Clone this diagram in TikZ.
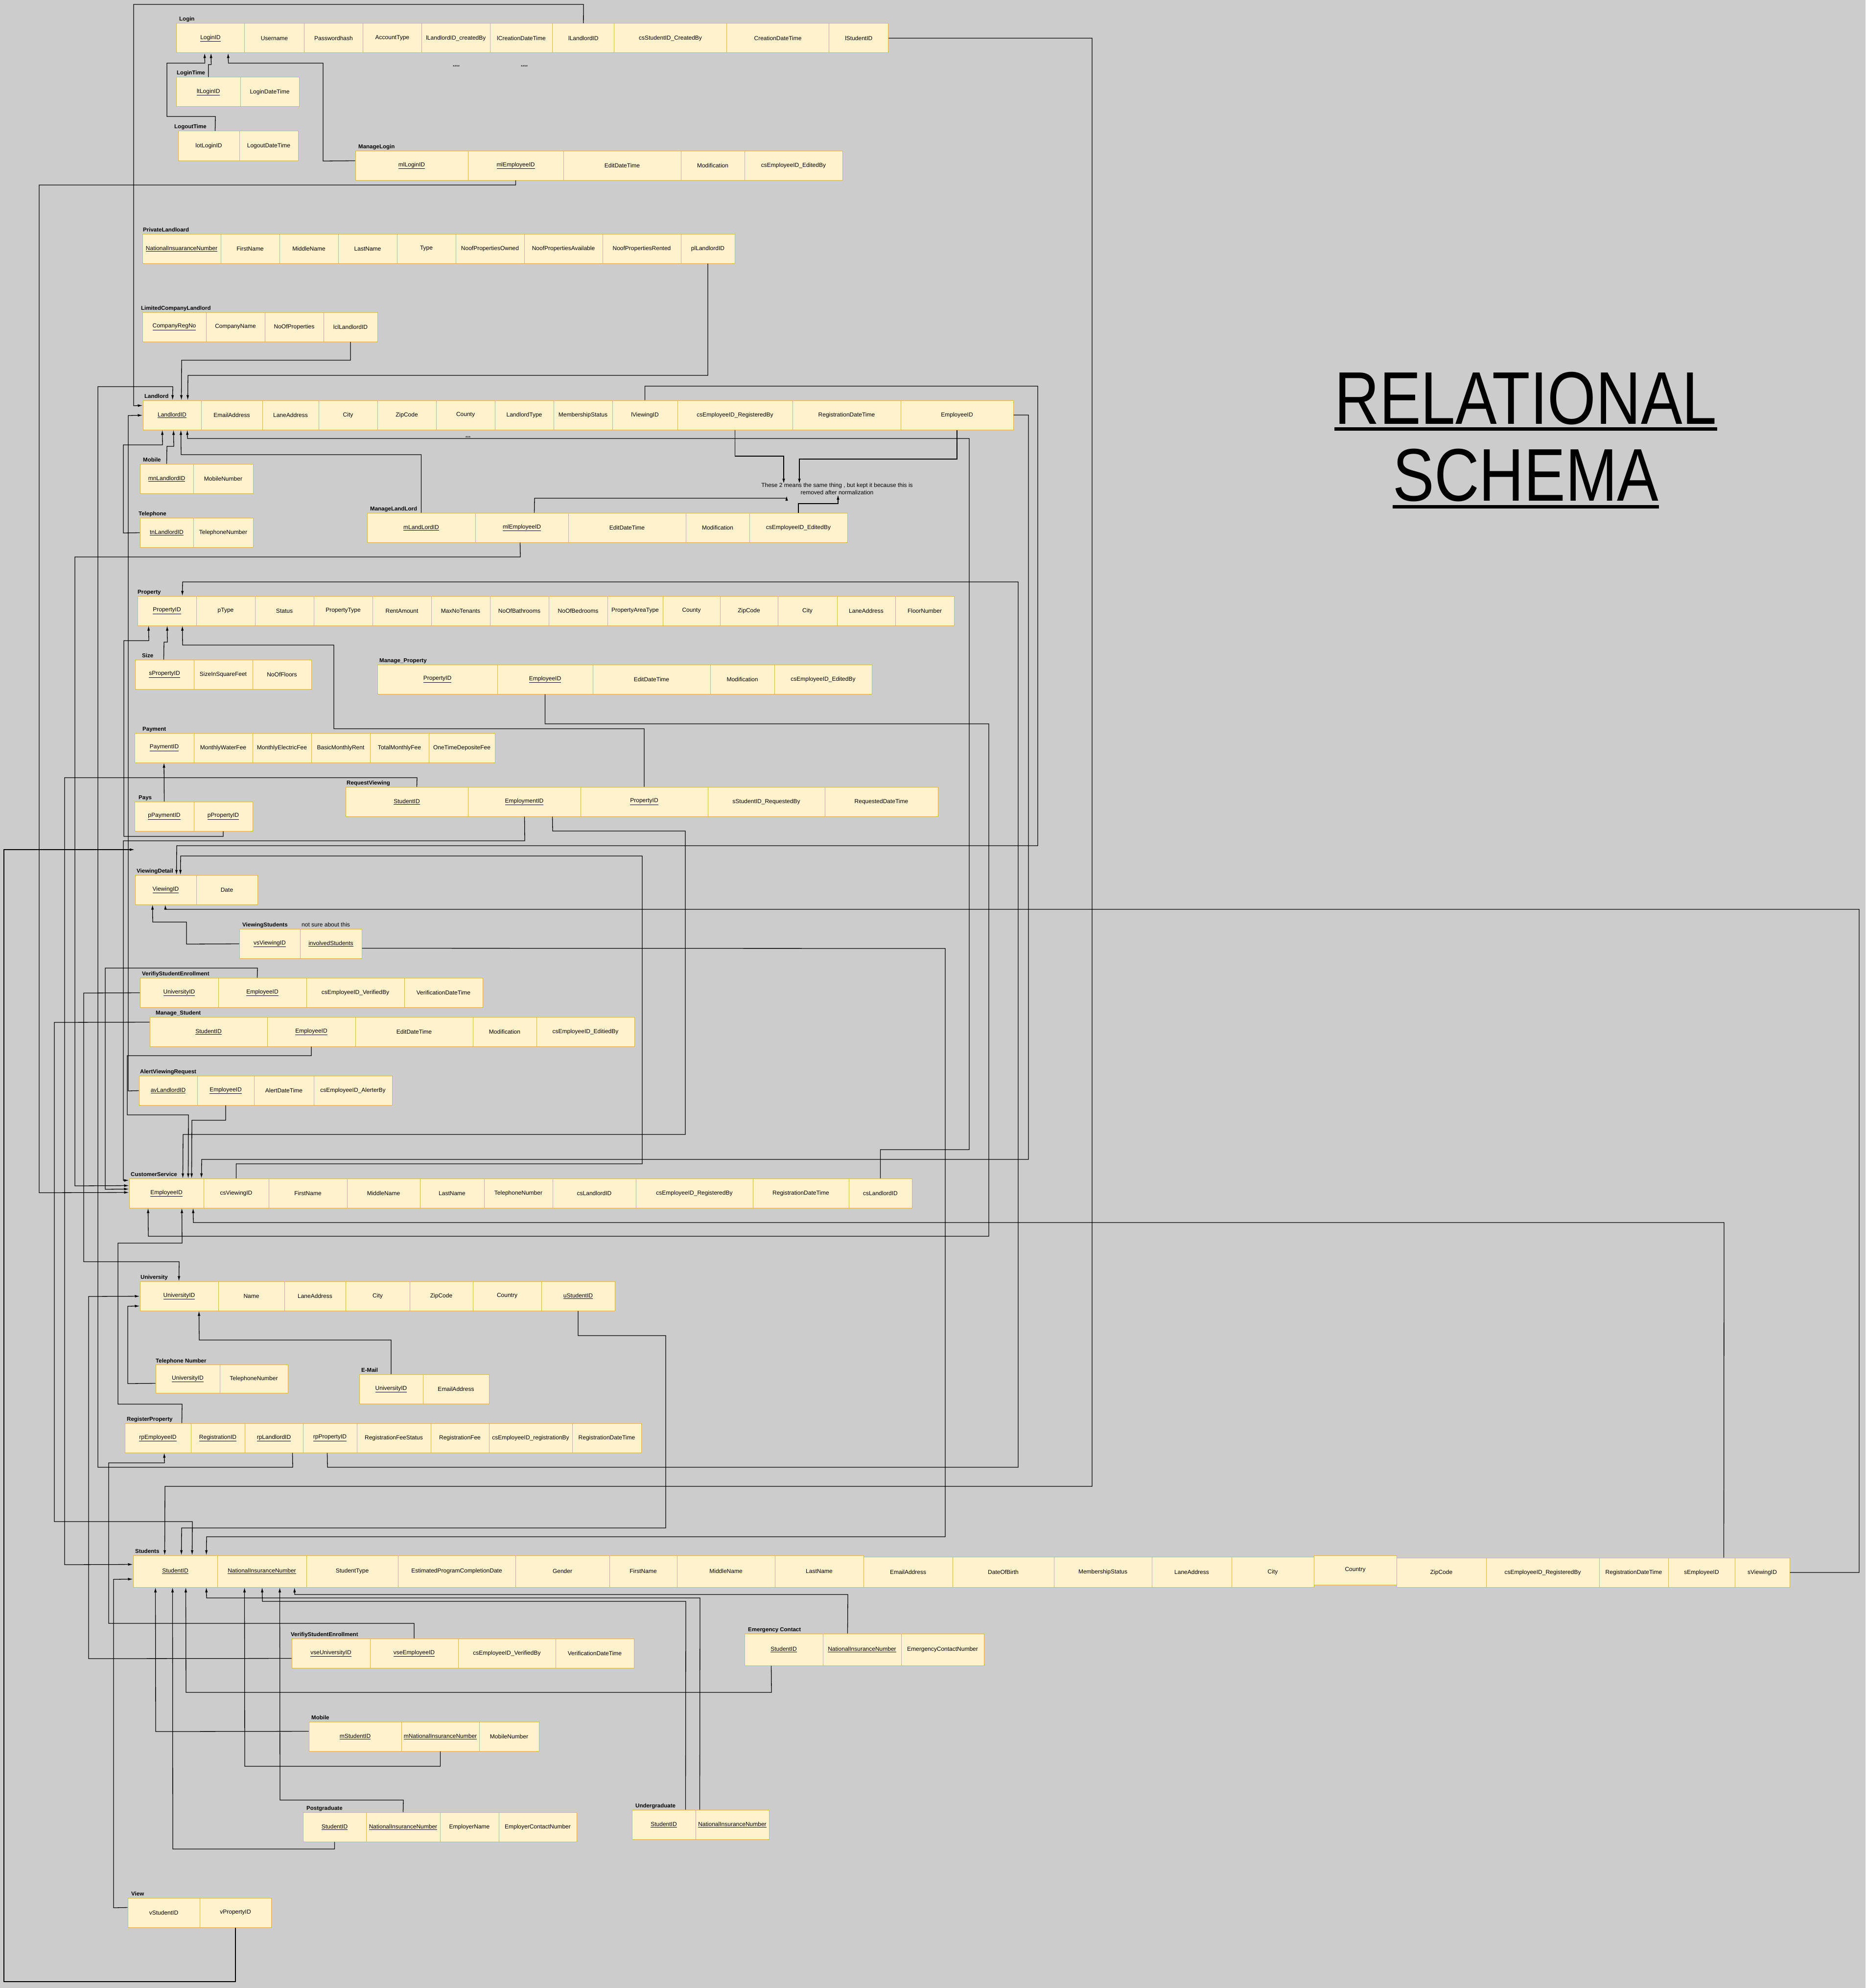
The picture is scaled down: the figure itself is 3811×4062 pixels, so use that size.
\documentclass[tikz,border=0pt]{standalone}
\usepackage{fontspec}
\setmainfont{Liberation Sans}
\usepackage{graphicx}
\usetikzlibrary{arrows.meta}
\definecolor{bgc}{HTML}{CCCCCC}
\definecolor{cfill}{HTML}{FFF2CC}
\definecolor{cdraw}{HTML}{D6B656}
\newcommand\cellat[6]{\node[cellbox, minimum width={(#3-#2)*1pt}, minimum height={(#5-#4)*1pt}] (#1) at ({(#2+#3)/2},{(#4+#5)/2}) {#6};}
\newcommand\trow[4]{\foreach \xa/\xb/\tx [count=\i] in {#4}{\cellat{#1\i}{\xa}{\xb}{#2}{#3}{\tx}}}
\newcommand\tlab[4]{\node[tlabel] (#1) at (#2,#3) {#4};}
\begin{document}
\begin{tikzpicture}[x=1pt,y=-1pt,
  cellbox/.style={draw=cdraw, fill=cfill, line width=1pt, inner sep=0pt, font=\fontsize{12}{14}\selectfont, anchor=center},
  tlabel/.style={anchor=base west, inner sep=0pt, font=\bfseries\fontsize{11.5}{14}\selectfont},
  plain/.style={anchor=base west, inner sep=0pt, font=\fontsize{12}{14}\selectfont},
  fk/.style={draw=black, line width=1.3pt, -{Latex[length=10pt,width=5.5pt]}}]
\useasboundingbox (0,0) rectangle (3811,4062);
\fill[bgc] (0,0) rectangle (3811,4062);

% ---------- tables ----------
\tlab{Llogin}{366}{43}{Login}
\trow{lg}{48}{108}{360.5/499.4/\underline{LoginID}, 499.4/621.5/Username, 621.5/741.4/Passwordhash, 741.4/861.4/AccountType, 861.4/1001.3/lLandlordID\_createdBy, 1001.3/1128.7/lCreationDateTime, 1128.7/1254.9/lLandlordID, 1254.9/1484.3/csStudentID\_CreatedBy, 1484.3/1693.8/CreationDateTime, 1693.8/1814.8/lStudentID}
\node[inner sep=0pt, font=\fontsize{9}{10}\selectfont] (dots1) at (932,136) {****};
\node[inner sep=0pt, font=\fontsize{9}{10}\selectfont] (dots2) at (1071,136) {****};

\tlab{Llt}{361}{153}{LoginTime}
\trow{lt}{158}{218}{360.5/491/\underline{ltLoginID}, 491/611/LoginDateTime}
\tlab{Llo}{356}{263}{LogoutTime}
\trow{lo}{268}{328}{364/489/lotLoginID, 489/609/LogoutDateTime}
\tlab{Lml}{732}{303}{ManageLogin}
\trow{ml}{308}{368}{726/956/\underline{mlLoginID}, 956/1151/\underline{mlEmployeeID}, 1151/1391/EditDateTime, 1391/1521/Modification, 1521/1721/csEmployeeID\_EditedBy}

\tlab{Lpl}{292}{473}{PrivateLandloard}
\trow{pl}{478}{538}{291/451/\underline{NationalInsuaranceNumber}, 451/571/FirstName, 571/691/MiddleName, 691/811/LastName, 811/931/Type, 931/1071/NoofPropertiesOwned, 1071/1231/NoofPropertiesAvailable, 1231/1391/NoofPropertiesRented, 1391/1501/plLandlordID}
\tlab{Llc}{288}{633}{LimitedCompanyLandlord}
\trow{lc}{638}{698}{291/421/\underline{CompanyRegNo}, 421/541/CompanyName, 541/661/NoOfProperties, 661/771/lclLandlordID}

\tlab{Lll}{295}{813}{Landlord}
\trow{ll}{818}{878}{292/411/\underline{LandlordID}, 411/536/EmailAddress, 536/651/LaneAddress, 651/771/City, 771/891/ZipCode, 891/1011/County, 1011/1131/LandlordType, 1131/1251/MembershipStatus, 1251/1384/lViewingID, 1384/1619/csEmployeeID\_RegisteredBy, 1619/1840/RegistrationDateTime, 1840/2070/EmployeeID}
\node[inner sep=0pt, font=\fontsize{9}{10}\selectfont] (dots3) at (956,894) {***};

\tlab{Llm}{292}{943}{Mobile}
\trow{lm}{948}{1008}{286/395/\underline{mnLandlordID}, 395/517/MobileNumber}
\tlab{Ltl}{283}{1053}{Telephone}
\trow{tl}{1058}{1118}{286/395/\underline{tnLandlordID}, 395/517/TelephoneNumber}
\tlab{Lmll}{756}{1043}{ManageLandLord}
\trow{mll}{1048}{1108}{750/971/\underline{mLandLordID}, 971/1161/\underline{mlEmployeeID}, 1161/1401/EditDateTime, 1401/1531/Modification, 1531/1731/csEmployeeID\_EditedBy}

\node[inner sep=0pt, align=center, font=\fontsize{12}{15}\selectfont] (note) at (1710,999) {These 2 means the same thing , but kept it because this is\\removed after normalization};
\coordinate (na) at (1601,988);
\coordinate (nb) at (1633,988);
\coordinate (nc) at (1607,1013);
\coordinate (nd) at (1712,1011);

\tlab{Lpr}{281}{1213}{Property}
\trow{pr}{1218}{1278}{281/401/\underline{PropertyID}, 401/521/pType, 521/641/Status, 641/761/PropertyType, 761/881/RentAmount, 881/1001/MaxNoTenants, 1001/1121/NoOfBathrooms, 1121/1241/NoOfBedrooms, 1241/1354/PropertyAreaType, 1354/1471/County, 1471/1589/ZipCode, 1589/1710/City, 1710/1829/LaneAddress, 1829/1949/FloorNumber}
\tlab{Lsz}{290}{1343}{Size}
\trow{sz}{1348}{1408}{276/396/\underline{sPropertyID}, 396/516/SizeInSquareFeet, 516/636/NoOfFloors}
\tlab{Lmp}{775}{1353}{Manage\_Property}
\trow{mp}{1358}{1418}{771/1016/\underline{PropertyID}, 1016/1211/\underline{EmployeeID}, 1211/1451/EditDateTime, 1451/1582/Modification, 1582/1781/csEmployeeID\_EditedBy}

\tlab{Lpm}{291}{1493}{Payment}
\trow{pm}{1498}{1558}{275/396/\underline{PaymentID}, 396/516/MonthlyWaterFee, 516/636/MonthlyElectricFee, 636/756/BasicMonthlyRent, 756/876/TotalMonthlyFee, 876/1011/OneTimeDepositeFee}
\tlab{Lps}{283}{1633}{Pays}
\trow{ps}{1638}{1698}{275/396/\underline{pPaymentID}, 396/516/\underline{pPropertyID}}
\tlab{Lrv}{708}{1603}{RequestViewing}
\trow{rv}{1608}{1668}{706/956/\underline{StudentID}, 956/1186/\underline{EmploymentID}, 1186/1446/\underline{PropertyID}, 1446/1685/sStudentID\_RequestedBy, 1685/1916/RequestedDateTime}

\coordinate (pa) at (275,1736);
\tlab{Lvd}{279}{1783}{ViewingDetail}
\trow{vd}{1788}{1848}{276/401/\underline{ViewingID}, 401/526/Date}
\tlab{Lvs}{495}{1893}{ViewingStudents}
\node[plain] (unsure) at (616,1893) {not sure about this};
\trow{vs}{1898}{1958}{489/613/\underline{vsViewingID}, 613/739/\underline{involvedStudents}}

\tlab{Lve}{290}{1993}{VerifiyStudentEnrollment}
\trow{ve}{1998}{2058}{286/446/\underline{UniversityID}, 446/626/\underline{EmployeeID}, 626/826/csEmployeeID\_VerifiedBy, 826/986/VerificationDateTime}
\tlab{Lms}{318}{2073}{Manage\_Student}
\trow{ms}{2078}{2138}{306/546/\underline{StudentID}, 546/726/\underline{EmployeeID}, 726/966/EditDateTime, 966/1096/Modification, 1096/1296/csEmployeeID\_EditiedBy}
\tlab{Lav}{286}{2193}{AlertViewingRequest}
\trow{av}{2198}{2258}{284/403/\underline{avLandlordID}, 403/519/\underline{EmployeeID}, 519/641/AlertDateTime, 641/801/csEmployeeID\_AlerterBy}

\tlab{Lcs}{267}{2403}{CustomerService}
\trow{cs}{2408}{2468}{264/416/\underline{EmployeeID}, 416/549/csViewingID, 549/709/FirstName, 709/858/MiddleName, 858/989/LastName, 989/1129/TelephoneNumber, 1129/1299/csLandlordID, 1299/1538/csEmployeeID\_RegisteredBy, 1538/1734/RegistrationDateTime, 1734/1863/csLandlordID}

\tlab{Lun}{287}{2613}{University}
\trow{un}{2618}{2678}{286/446/\underline{UniversityID}, 446/581/Name, 581/706/LaneAddress, 706/837/City, 837/966/ZipCode, 966/1106/Country, 1106/1256/\underline{uStudentID}}
\tlab{Ltn}{318}{2784}{Telephone Number}
\trow{tn}{2788}{2846}{318/449/\underline{UniversityID}, 449/588/TelephoneNumber}
\tlab{Lem}{738}{2803}{E-Mail}
\trow{em}{2808}{2868}{734/864/\underline{UniversityID}, 864/999/EmailAddress}
\tlab{Lrp}{259}{2903}{RegisterProperty}
\trow{rp}{2908}{2968}{255/390/\underline{rpEmployeeID}, 390/500/\underline{RegistrationID}, 500/619/\underline{rpLandlordID}, 619/729/\underline{rpPropertyID}, 729/880/RegistrationFeeStatus, 880/999/RegistrationFee, 999/1169/csEmployeeID\_registrationBy, 1169/1310/RegistrationDateTime}

\tlab{Lst}{276}{3173}{Students}
\cellat{st1}{272}{444}{3178}{3243}{\underline{StudentID}}
\cellat{st2}{444}{626}{3178}{3243}{\underline{NationalInsuranceNumber}}
\cellat{st3}{626}{813}{3178}{3243}{StudentType}
\cellat{st4}{813}{1053}{3178}{3243}{EstimatedProgramCompletionDate}
\cellat{st5}{1053}{1245}{3178}{3243}{Gender}
\cellat{st6}{1245}{1383}{3178}{3243}{FirstName}
\cellat{st7}{1383}{1583}{3178}{3243}{MiddleName}
\cellat{st8}{1583}{1764}{3178}{3243}{LastName}
\cellat{st9}{1764}{1946}{3181}{3243}{EmailAddress}
\cellat{st10}{1946}{2153}{3181}{3243}{DateOfBirth}
\cellat{st11}{2153}{2353}{3181}{3243}{MembershipStatus}
\cellat{st12}{2353}{2516}{3181}{3243}{LaneAddress}
\cellat{st13}{2516}{2684}{3181}{3243}{City}
\cellat{st14}{2684}{2853}{3178}{3238}{Country}
\cellat{st15}{2853}{3036}{3183}{3243}{ZipCode}
\cellat{st16}{3036}{3267}{3183}{3243}{csEmployeeID\_RegisteredBy}
\cellat{st17}{3267}{3408}{3183}{3243}{RegistrationDateTime}
\cellat{st18}{3408}{3544}{3183}{3243}{sEmployeeID}
\cellat{st19}{3544}{3656}{3183}{3243}{sViewingID}

\tlab{Lvx}{594}{3343}{VerifiyStudentEnrollment}
\trow{vx}{3348}{3408}{596/756/\underline{vseUniversityID}, 756/936/\underline{vseEmployeeID}, 936/1135/csEmployeeID\_VerifiedBy, 1135/1295/VerificationDateTime}
\tlab{Lec}{1528}{3333}{Emergency Contact}
\trow{ec}{3338}{3403}{1521/1681/\underline{StudentID}, 1681/1841/\underline{NationalInsuranceNumber}, 1841/2010/EmergencyContactNumber}
\tlab{Lmo}{636}{3513}{Mobile}
\trow{mo}{3518}{3578}{631/820/\underline{mStudentID}, 820/979/\underline{mNationalInsuranceNumber}, 979/1101/MobileNumber}
\tlab{Lpg}{626}{3698}{Postgraduate}
\trow{pg}{3703}{3763}{619/748/\underline{StudentID}, 748/899/\underline{NationalInsuranceNumber}, 899/1019/EmployerName, 1019/1178/EmployerContactNumber}
\tlab{Lug}{1298}{3693}{Undergraduate}
\trow{ug}{3698}{3758}{1291/1421/\underline{StudentID}, 1421/1571/\underline{NationalInsuranceNumber}}
\tlab{Lvw}{268}{3873}{View}
\trow{vw}{3878}{3938}{261/408/vStudentID, 408/554/vPropertyID}

% ---------- title ----------
\node[anchor=base, inner sep=0pt, font=\fontsize{127}{130}\selectfont] (t1) at (3117,866) {\scalebox{1}[1.2]{RELATIONAL}};
\node[anchor=base, inner sep=0pt, font=\fontsize{127}{130}\selectfont] (t2) at (3117,1023) {\scalebox{1}[1.2]{SCHEMA}};
\draw[line width=7pt] ([yshift=-10pt]t1.base west) -- ([yshift=-10pt]t1.base east);
\draw[line width=7pt] ([yshift=-12pt]t2.base west) -- ([yshift=-12pt]t2.base east);

% ---------- connectors ----------
\draw[fk] (lg7.north) -- (1192,9) -- (273,9) -- (273,829) -- ([yshift=-11]ll1.north west);
\draw[fk] (lt1.north) -- (425.75,132) -- (431.5,132) -- ([xshift=71]lg1.south west);
\draw[fk] ([xshift=76]lo1.north west) -- (440,238) -- (341,238) -- (341,129) -- (418.5,129) -- ([xshift=58]lg1.south west);
\draw[fk] ([yshift=-21]ml1.north west) -- (660,329) -- (660,129) -- (466.5,129) -- ([xshift=106]lg1.south west);
\draw[fk] (ml2.south) -- (1053.5,378) -- (80,378) -- (80,2437) -- ([yshift=-29]cs1.north west);
\draw[fk] (lg10.east) -- (2231,78) -- (2231,3037) -- (337,3037) -- ([xshift=65]st1.north west);
\draw[fk] (pl9.south) -- (1446,767) -- (384,767) -- ([xshift=92]ll1.north west);
\draw[fk] (lc4.south) -- (716,736) -- (371,736) -- ([xshift=79]ll1.north west);
\draw[fk] ([xshift=98]rp3.south west) -- (598,2998) -- (200,2998) -- (200,790) -- (353,790) -- ([xshift=61]ll1.north west);
\draw[fk] ([yshift=-31]av1.north west) -- (262,2229) -- (262,849) -- ([yshift=-31]ll1.north west);
\draw[fk] ([xshift=55]lm1.north west) -- (341,912) -- (355,912) -- ([xshift=63]ll1.south west);
\draw[fk] ([yshift=-31]tl1.north west) -- (252,1089) -- (252,909) -- (332,909) -- ([xshift=40]ll1.south west);
\draw[fk] (mll1.north) -- (860.5,929) -- (370,929) -- ([xshift=78]ll1.south west);
\draw[fk] (cs10.north) -- (1798.5,2349) -- (1980,2349) -- (1980,896) -- (383,896) -- ([xshift=91]ll1.south west);
\draw[fk] (ll10.south) -- (1501.5,932) -- (1601,932) -- (na);
\draw[fk] (ll12.south) -- (1955,938) -- (1633,938) -- (nb);
\draw[fk] ([xshift=121]mll2.north west) -- (1092,1018) -- (1607,1018) -- (nc);
\draw[fk] (mll5.north) -- (1631,1029) -- (1712,1029) -- (nd);
\draw[fk] (ll12.east) -- (2101,848) -- (2101,2369) -- (412,2369) -- ([xshift=148]cs1.north west);
\draw[fk] ([xshift=92]mll2.south west) -- (1063,1138) -- (153,1138) -- (153,2423) -- ([yshift=-15]cs1.north west);
\draw[fk] (ll9.north) -- (1317.5,789) -- (2120,789) -- (2120,1728) -- (361,1728) -- ([xshift=85]vd1.north west);
\draw[fk] (cs2.north) -- (482.5,2378) -- (1312,2378) -- (1312,1749) -- (369,1749) -- ([xshift=93]vd1.north west);
\draw[fk] ([xshift=50]rp4.south west) -- (669,2998) -- (2080,2998) -- (2080,1189) -- (373,1189) -- ([xshift=92]pr1.north west);
\draw[fk] (ps2.south) -- (456,1709) -- (253,1709) -- (253,1309) -- (304,1309) -- ([xshift=23]pr1.south west);
\draw[fk] ([xshift=59]sz1.north west) -- (335,1312) -- (342,1312) -- ([xshift=61]pr1.south west);
\draw[fk] (rv3.north) -- (1316,1489) -- (682,1489) -- (682,1318) -- (373,1318) -- ([xshift=92]pr1.south west);
\draw[fk] (mp2.south) -- (1113.5,1479) -- (2020,1479) -- (2020,2526) -- (303,2526) -- ([xshift=39]cs1.south west);
\draw[fk] (ps1.north) -- ([xshift=60.5]pm1.south west);
\draw[fk] ([xshift=146]rv1.north west) -- (852,1589) -- (132,1589) -- (132,3197) -- ([yshift=-19]st1.north west);
\draw[fk] ([xshift=116]rv2.south west) -- (1072,1718) -- (252,1718) -- (252,2412) -- ([yshift=-4]cs1.north west);
\draw[fk] ([xshift=173]rv2.south west) -- (1129,1698) -- (1400,1698) -- (1400,2318) -- (374,2318) -- ([xshift=110]cs1.north west);
\draw[fk] ([yshift=-31]vs1.north west) -- (381,1929) -- (381,1884) -- (312,1884) -- ([xshift=36]vd1.south west);
\draw[fk] (st19.east) -- (3798,3213) -- (3798,1858) -- (338,1858) -- ([xshift=62]vd1.south west);
\draw[fk] ([yshift=-40]vs2.north east) -- (1931,1938) -- (1931,3140) -- (422,3140) -- ([xshift=150]st1.north west);
\draw[fk] ([xshift=80]ve2.north west) -- (526,1978) -- (215,1978) -- (215,2430) -- ([yshift=-22]cs1.north west);
\draw[fk] ([yshift=-31]ve1.north west) -- (171,2029) -- (171,2578) -- (366,2578) -- ([xshift=80]un1.north west);
\draw[fk] ([yshift=-11]ms1.north west) -- (111,2089) -- (111,3109) -- (393,3109) -- ([xshift=121]st1.north west);
\draw[fk] (ms2.south) -- (636,2157) -- (260,2157) -- (260,2278) -- (385,2278) -- ([xshift=121]cs1.north west);
\draw[fk] (av2.south) -- (461,2289) -- (392,2289) -- ([xshift=128]cs1.north west);
\draw[fk] ([yshift=-39]tn1.north west) -- (261,2827) -- (261,2669) -- ([yshift=-51]un1.north west);
\draw[fk] (em1.north) -- (799,2738) -- (407,2738) -- ([xshift=121]un1.south west);
\draw[fk] (un7.south) -- (1181,2729) -- (1360,2729) -- (1360,3122) -- (371,3122) -- ([xshift=99]st1.north west);
\draw[fk] ([xshift=117]rp1.north west) -- (372,2869) -- (241,2869) -- (241,2540) -- (372,2540) -- ([xshift=108]cs1.south west);
\draw[fk] ([xshift=114]st18.north west) -- (3522,2498) -- (395,2498) -- ([xshift=131]cs1.south west);
\draw[fk] ([yshift=-41]vx1.north west) -- (181,3389) -- (181,2649) -- ([yshift=-31]un1.north west);
\draw[fk] (vx2.north) -- (846,3317) -- (222,3317) -- (222,2989) -- (336,2989) -- ([xshift=81]rp1.south west);
\draw[fk] ([yshift=-20]vw1.north west) -- (232,3898) -- (232,3227) -- ([yshift=-49]st1.north west);
\draw[fk] (vw2.south) -- (481,4049) -- (8,4049) -- (8,1736) -- (pa);
\draw[fk] ([xshift=55]ec1.south west) -- (1576,3458) -- (380,3458) -- ([xshift=108]st1.south west);
\draw[fk] ([xshift=51]ec2.north west) -- (1732,3258) -- (602,3258) -- ([xshift=158]st2.south west);
\draw[fk] ([yshift=-20]mo1.north west) -- (318,3538) -- ([xshift=46]st1.south west);
\draw[fk] (mo2.south) -- (899.5,3609) -- (500,3609) -- ([xshift=56]st2.south west);
\draw[fk] ([xshift=76]pg2.north west) -- (824,3678) -- (572,3678) -- ([xshift=128]st2.south west);
\draw[fk] (pg1.south) -- (683.5,3778) -- (353,3778) -- ([xshift=81]st1.south west);
\draw[fk] ([xshift=110]ug1.north west) -- (1401,3272) -- (536,3272) -- ([xshift=92]st2.south west);
\draw[fk] ([xshift=9]ug2.north west) -- (1430,3265) -- (422,3265) -- ([xshift=150]st1.south west);
\end{tikzpicture}
\end{document}
